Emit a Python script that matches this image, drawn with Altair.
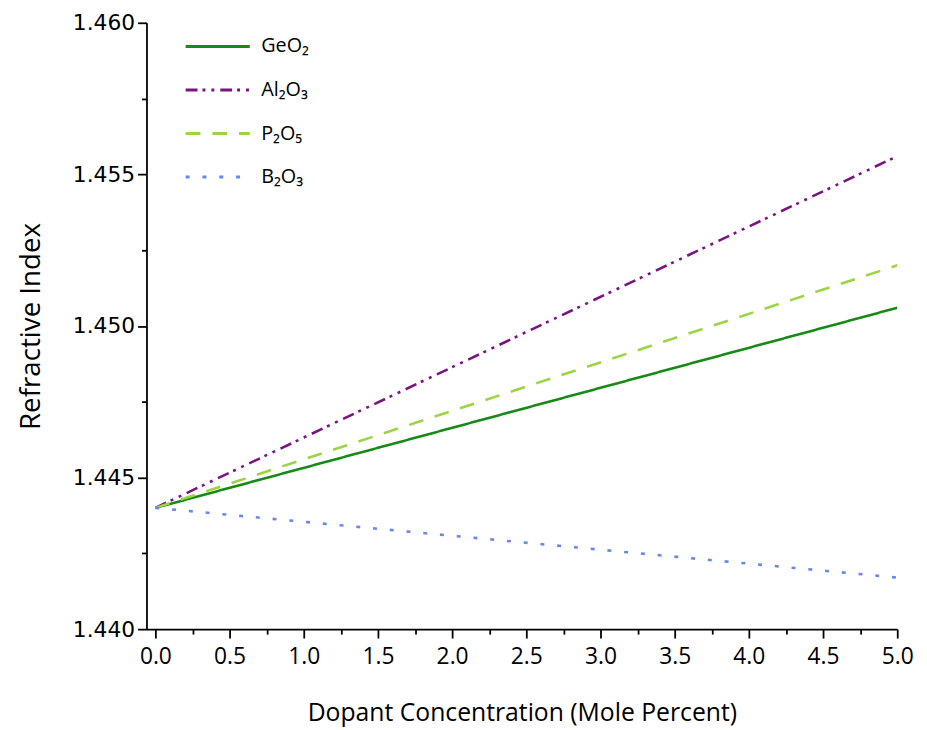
import altair as alt
import pandas as pd

# Data
dopants = ["GeO₂", "Al₂O₃", "P₂O₅", "B₂O₃"]
conc = [0.0, 5.0]
geo2 = [1.4440, 1.4506]
al2o3 = [1.4440, 1.4556]
p2o5 = [1.4440, 1.4520]
b2o3 = [1.4440, 1.4417]

colors = ["#168a16", "#7a1480", "#9cd444", "#6a86ee"]
dashes = [[1, 0], [12, 5, 3, 6, 3, 6], [15, 12], [4, 13]]

x_ticks = [i * 0.25 for i in range(21)]
y_ticks = [1.440 + i * 0.0025 for i in range(9)]

rows = []
for name, series in zip(dopants, [geo2, al2o3, p2o5, b2o3]):
    for c, v in zip(conc, series):
        rows.append({"Dopant": name, "conc": c, "n": v})
df = pd.DataFrame(rows)

x_major = "abs(datum.value*2 - round(datum.value*2)) < 0.001"
y_major = "abs(datum.value*200 - round(datum.value*200)) < 0.01"

chart = alt.Chart(df).mark_line(strokeWidth=2.6, clip=True).encode(
    x=alt.X("conc:Q",
            scale=alt.Scale(domain=[-0.06, 5.0], nice=False, zero=False),
            axis=alt.Axis(title="Dopant Concentration (Mole Percent)",
                          values=x_ticks,
                          labelExpr=f"({x_major}) ? format(datum.value, '.1f') : ''",
                          tickSize={"condition": {"test": x_major, "value": 9}, "value": 5},
                          labelFont="Open Sans", labelFontSize=23,
                          titleFont="Open Sans", titleFontSize=25, titleFontWeight="normal",
                          titlePadding=32, labelPadding=8, labelFlush=False)),
    y=alt.Y("n:Q",
            scale=alt.Scale(domain=[1.440, 1.460], nice=False, zero=False),
            axis=alt.Axis(title="Refractive Index",
                          values=y_ticks,
                          labelExpr=f"({y_major}) ? format(datum.value, '.3f') : ''",
                          tickSize={"condition": {"test": y_major, "value": 9}, "value": 5},
                          labelFont="DejaVu Sans", labelFontSize=22,
                          titleFont="Open Sans", titleFontSize=28, titleFontWeight="normal",
                          titlePadding=27, labelPadding=3, labelFlush=False)),
    color=alt.Color("Dopant:N",
                    scale=alt.Scale(domain=dopants, range=colors),
                    sort=dopants,
                    legend=alt.Legend(title=None, orient="none", legendX=38, legendY=-10,
                                      symbolType="stroke", symbolSize=4200,
                                      symbolStrokeWidth=3,
                                      labelFont="Open Sans", labelFontSize=20,
                                      rowPadding=0, labelOffset=10)),
    strokeDash=alt.StrokeDash("Dopant:N",
                              scale=alt.Scale(domain=dopants, range=dashes),
                              sort=dopants, legend=None),
).properties(width=759, height=613, padding={"left": 10, "top": 0, "right": 5, "bottom": 0}
).configure_axis(
    domainColor="black", domainWidth=1.8, tickColor="black", tickWidth=1.8,
    labelColor="black", titleColor="black", grid=False
).configure_view(stroke=None)

chart.save("out.html", embed_options={"renderer": "svg", "actions": False})
